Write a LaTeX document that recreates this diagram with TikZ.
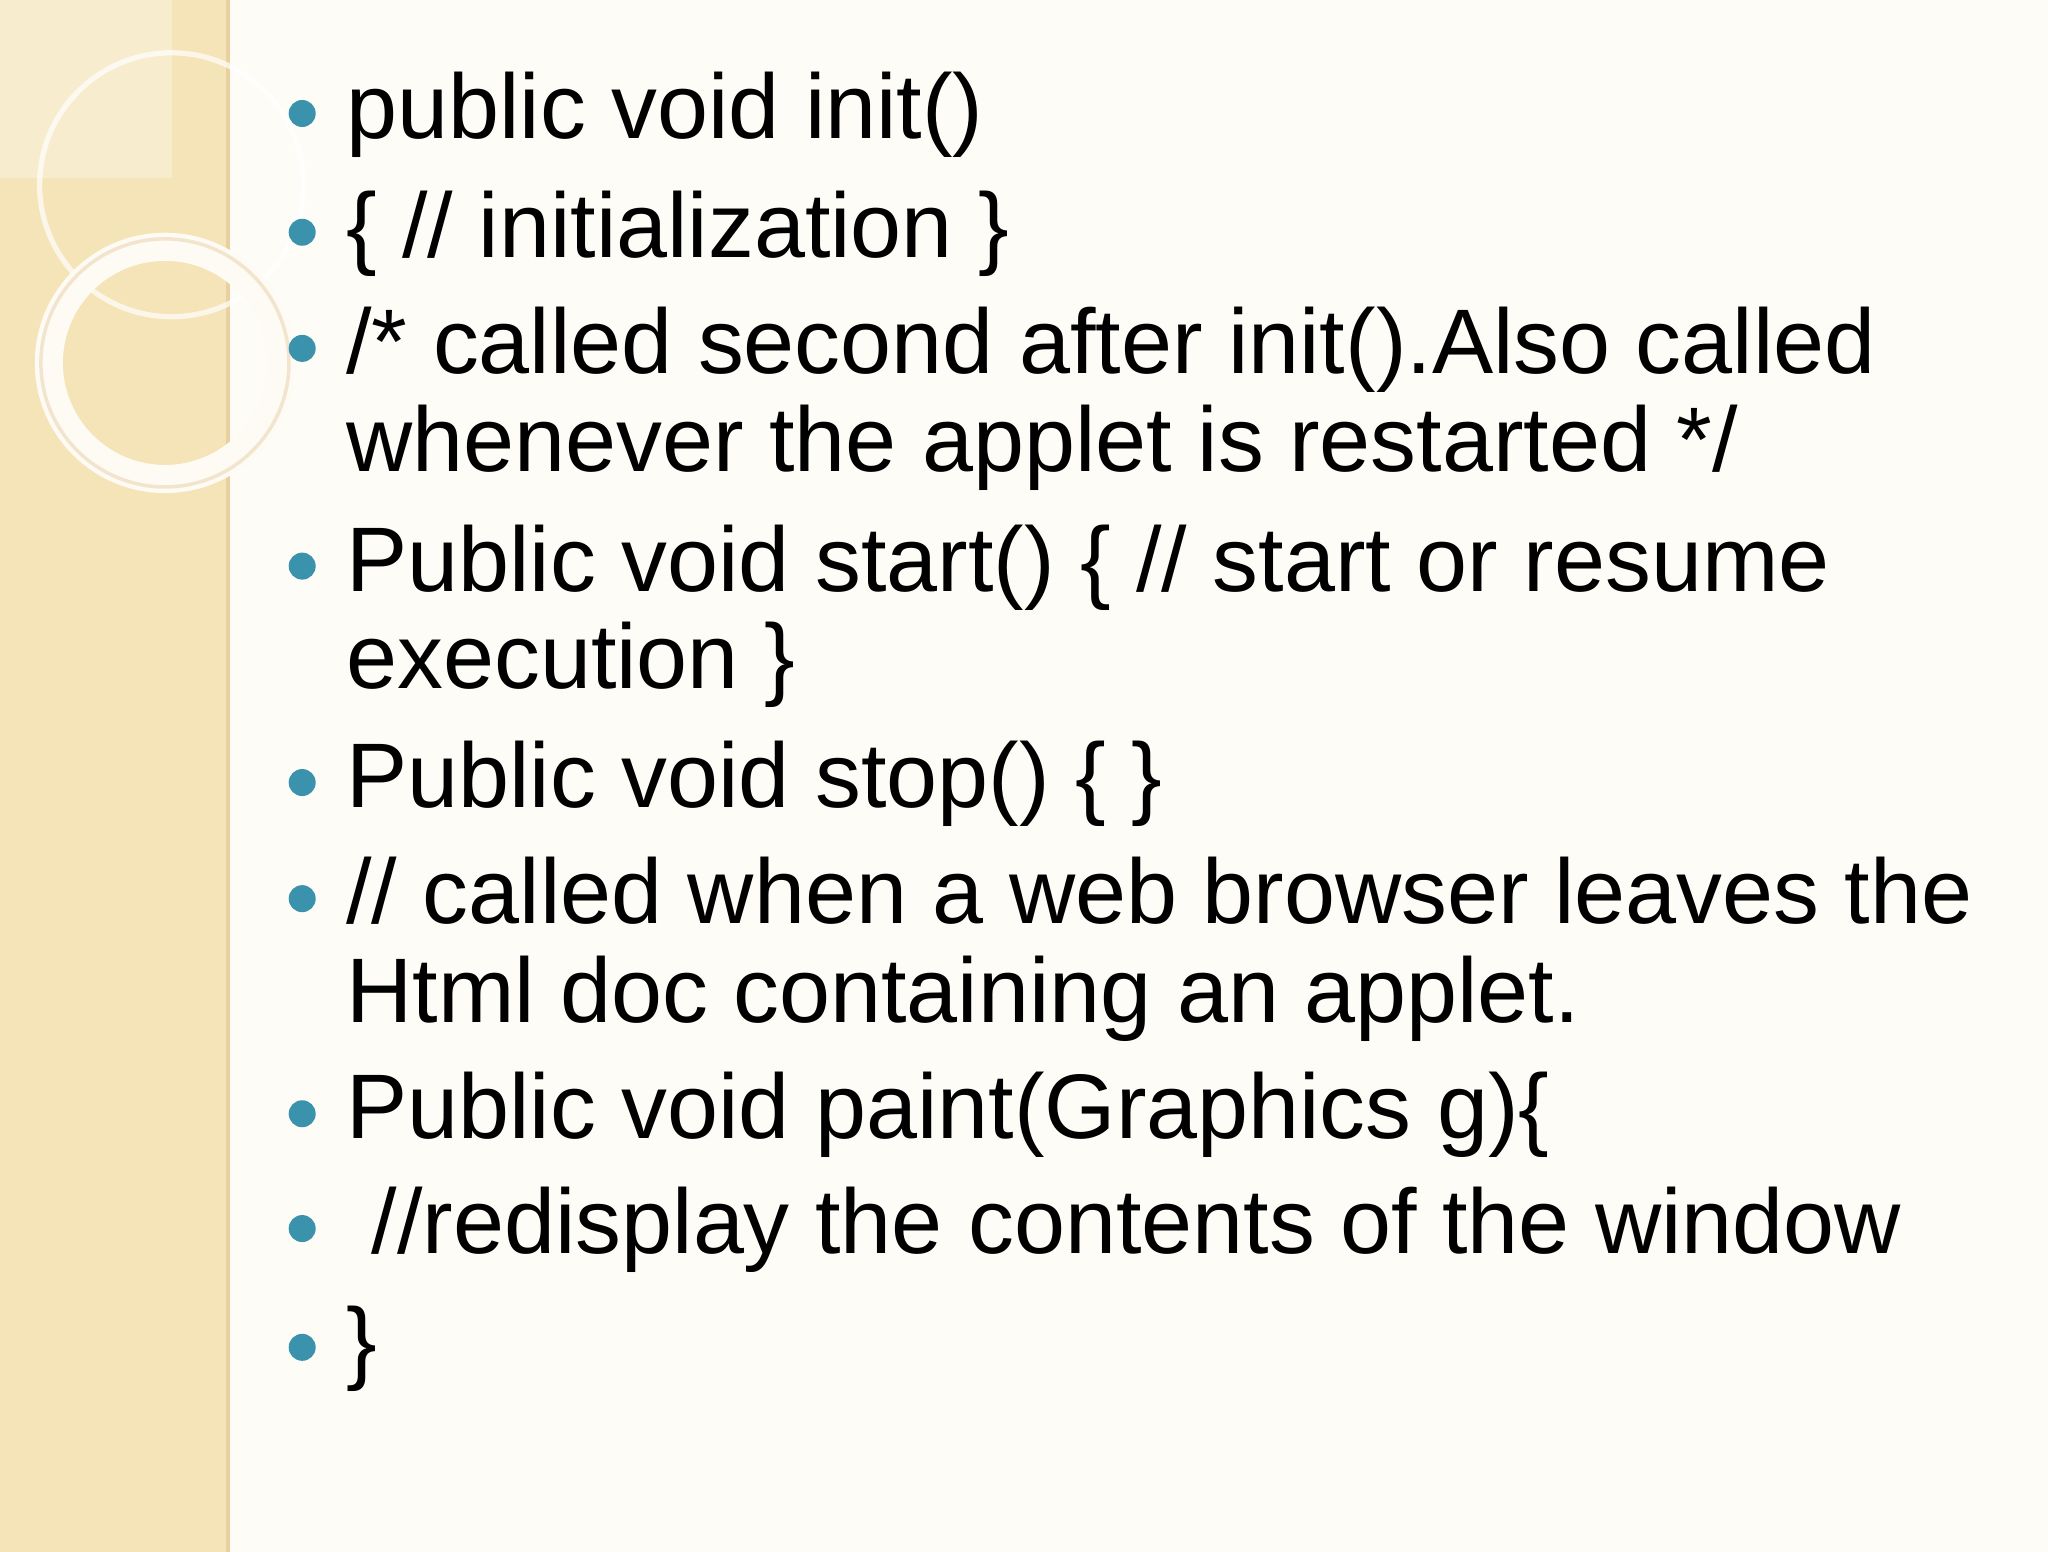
\documentclass[tikz,border=0pt]{standalone}
\usepackage{fontspec}
\setmainfont{Liberation Sans}
\definecolor{band}{HTML}{F4E4B8}
\definecolor{pagebg}{HTML}{FDFCF6}
\definecolor{bul}{HTML}{3B92AC}
\begin{document}
\begin{tikzpicture}[x=0.013196cm,y=-0.013196cm,
  line/.style={anchor=base west,inner sep=0pt,font=\fontsize{26.1pt}{32pt}\selectfont},
  dot/.style={circle,fill=bul,inner sep=0pt,minimum size=0.27cm}]
\fill[pagebg] (0,0) rectangle (1552,1176);
\useasboundingbox (0,0) rectangle (1552,1176);
\fill[band] (0,0) rectangle (173,1176);
\draw[color=band!80!brown,line width=1.2pt] (173,0) -- (173,1176);
\fill[white,opacity=0.3] (0,0) rectangle (130,135);
\draw[white,opacity=0.7,line width=1.5pt] (130,140) circle (100);
\draw[white!85!band,line width=8pt] (125,275) circle (88);
\draw[band!70!brown,opacity=0.4,line width=1pt] (125,275) circle (94);
\foreach \n/\y/\t in {a/105/{public void init()},
 b/195/{\{ // initialization \}},
 c/283/{/* called second after init().Also called},
 d/448/{Public void start() \{ // start or resume},
 e/612/{Public void stop() \{ \}},
 f/700/{// called when a web browser leaves the},
 g/863/{Public void paint(Graphics g)\{},
 h/950/{\ //redisplay the contents of the window},
 i/1040/{\}}}{
  \node[line] (t\n) at (262,\y) {\t};
  \node[dot] (b\n) at (229,\y-19) {};
}
\node[line] (c2) at (262,357) {whenever the applet is restarted */};
\node[line] (d2) at (262,522) {execution \}};
\node[line] (f2) at (262,775) {Html doc containing an applet.};
\end{tikzpicture}
\end{document}
